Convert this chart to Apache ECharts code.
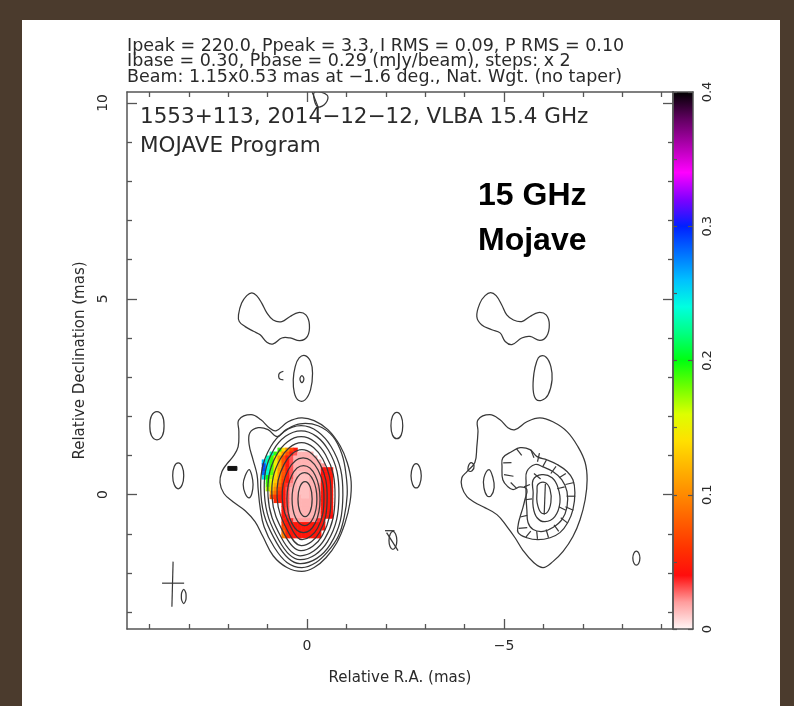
<!DOCTYPE html>
<html><head><meta charset="utf-8">
<script src="https://cdn.jsdelivr.net/npm/echarts@6/dist/echarts.min.js"></script>
<style>
html,body{margin:0;padding:0;width:794px;height:706px;overflow:hidden;background:#4b3b2d;}
#paper{position:absolute;left:22px;top:20px;width:758px;height:686px;background:#fff;}
#chart{position:absolute;left:0;top:0;width:794px;height:706px;}
</style></head><body>
<div id="paper"></div><div id="chart"></div>
<script>
// ---------- axis ticks (mas) ----------
const xMajorTicks = [0, -5];
const xMinorTicks = [-9, -8, -7, -6, -4, -3, -2, -1, 1, 2, 3, 4];
const yMajorTicks = [0, 5, 10];
const yMinorTicks = [-3, -2, -1, 1, 2, 3, 4, 6, 7, 8, 9];
const cbMajorTicks = [0, 0.1, 0.2, 0.3, 0.4];
const cbMinorTicks = [0.05, 0.15, 0.25, 0.35];
const X_MIN = -9.29, X_MAX = 4.57, Y_MIN = -3.43, Y_MAX = 10.28;
const CB_MIN = 0, CB_MAX = 0.4;

// ---------- Stokes I contours, left panel [RA, Dec] ----------
const coreL1 = [[1.73,1.91],[1.42,2.04],[1.17,1.91],[0.96,1.71],[0.79,1.63],[0.48,1.86],[0.15,1.96],[-0.18,1.89],[-0.53,1.66],[-0.84,1.25],[-1.02,0.82],[-1.12,0.33],[-1.09,-0.20],[-0.96,-0.74],[-0.76,-1.22],[-0.48,-1.61],[-0.18,-1.86],[0.13,-1.96],[0.51,-1.86],[0.86,-1.56],[1.12,-1.07],[1.32,-0.69],[1.57,-0.41],[1.88,-0.18],[2.11,0.03],[2.21,0.31],[2.16,0.59],[2.03,0.79],[1.88,0.97],[1.75,1.22],[1.73,1.61]];
const coreL2 = [[1.45,1.58],[1.24,1.71],[0.99,1.66],[0.76,1.48],[0.53,1.66],[0.18,1.81],[-0.28,1.76],[-0.66,1.48],[-0.89,1.02],[-0.99,0.51],[-1.02,0],[-0.94,-0.59],[-0.79,-1.07],[-0.53,-1.45],[-0.23,-1.73],[0.13,-1.86],[0.51,-1.73],[0.84,-1.33],[1.09,-0.82],[1.19,-0.33],[1.24,0.13],[1.27,0.51],[1.37,0.89],[1.47,1.28]];
const coreL3 = [[0.15,1.76],[-0.61,1.23],[-0.91,0],[-0.59,-1.27],[0.18,-1.76],[0.77,-1.23],[1.17,0],[0.92,1.23]];
const coreL4 = [[0.15,1.63],[-0.54,1.14],[-0.81,-0.01],[-0.52,-1.20],[0.18,-1.66],[0.71,-1.17],[1.08,-0.01],[0.85,1.14]];
const coreL5 = [[0.15,1.48],[-0.47,1.02],[-0.71,-0.04],[-0.45,-1.13],[0.18,-1.56],[0.65,-1.10],[0.99,-0.04],[0.77,1.02]];
const coreL6 = [[0.14,1.33],[-0.40,0.91],[-0.61,-0.05],[-0.39,-1.04],[0.16,-1.43],[0.57,-1.02],[0.89,-0.05],[0.68,0.91]];
const coreL7 = [[0.13,1.15],[-0.33,0.78],[-0.51,-0.08],[-0.32,-0.96],[0.15,-1.30],[0.49,-0.93],[0.76,-0.08],[0.58,0.78]];
const coreL8 = [[0.10,0.94],[-0.28,0.63],[-0.43,-0.10],[-0.27,-0.85],[0.13,-1.15],[0.41,-0.83],[0.63,-0.10],[0.48,0.63]];
const coreL9 = [[0.09,0.74],[-0.21,0.49],[-0.33,-0.11],[-0.21,-0.72],[0.09,-0.97],[0.39,-0.72],[0.51,-0.11],[0.39,0.49]];
const coreL10 = [[0.06,0.56],[-0.16,0.36],[-0.25,-0.11],[-0.16,-0.59],[0.06,-0.79],[0.29,-0.59],[0.38,-0.11],[0.29,0.36]];
const coreL11 = [[0.05,0.33],[-0.08,0.20],[-0.13,-0.11],[-0.08,-0.43],[0.05,-0.56],[0.18,-0.43],[0.23,-0.11],[0.18,0.20]];
const lobeOval = [[1.47,0.64],[1.40,0.48],[1.37,0.26],[1.40,0.03],[1.47,-0.08],[1.57,0.03],[1.62,0.26],[1.57,0.48]];
const lobeDash = [[1.78,0.72],[1.78,0.62],[2.01,0.62],[2.01,0.72]];
const blobL = [[1.74,4.59],[1.66,4.89],[1.53,5.08],[1.40,5.15],[1.28,5.08],[1.15,4.89],[1.02,4.64],[0.86,4.46],[0.64,4.42],[0.43,4.55],[0.22,4.65],[0.03,4.59],[-0.06,4.34],[-0.01,4.04],[0.18,3.93],[0.43,4.00],[0.64,4.00],[0.86,3.85],[1.02,3.89],[1.19,4.08],[1.36,4.17],[1.57,4.29],[1.72,4.42]];
const ovalL = [[0.05,3.55],[-0.09,3.40],[-0.14,3.10],[-0.09,2.68],[0.05,2.42],[0.22,2.41],[0.32,2.59],[0.35,2.93],[0.30,3.27],[0.20,3.49]];
const dotL = [[0.13,3.04],[0.08,2.95],[0.13,2.86],[0.18,2.95]];
const edgeOvalA = [[3.81,2.12],[3.67,2.01],[3.63,1.76],[3.67,1.51],[3.81,1.40],[3.95,1.51],[3.99,1.76],[3.95,2.01]];
const edgeOvalB = [[3.27,0.81],[3.17,0.72],[3.13,0.48],[3.17,0.25],[3.27,0.15],[3.37,0.25],[3.41,0.48],[3.37,0.72]];
const topLoop = [[-0.20,10.28],[-0.51,10.20],[-0.48,10.00],[-0.28,9.90],[-0.18,10.10]];
const oslashL = [[-2.18,-0.94],[-2.25,-1.01],[-2.28,-1.17],[-2.25,-1.33],[-2.18,-1.40],[-2.11,-1.33],[-2.08,-1.17],[-2.11,-1.01]];
const beamEllipse = [[3.13,-2.42],[3.08,-2.50],[3.07,-2.60],[3.08,-2.70],[3.13,-2.78],[3.18,-2.70],[3.19,-2.60],[3.18,-2.50]];
// open curves
const cShapeL = [[0.60,3.15],[0.70,3.10],[0.72,3.02],[0.69,2.95],[0.60,2.93]];
const topTail = [[-0.13,10.28],[-0.28,9.90]];
const oslashBar = [[-1.98,-0.92],[-2.22,-0.92]];
const oslashSlash = [[-2.02,-0.97],[-2.31,-1.43]];

// ---------- Stokes I contours, right panel ----------
const outerR = [[-4.34,1.91],[-4.64,2.04],[-4.90,1.91],[-5.10,1.71],[-5.28,1.66],[-5.58,1.86],[-5.91,1.96],[-6.24,1.86],[-6.60,1.61],[-6.88,1.22],[-7.06,0.82],[-7.11,0.38],[-7.06,-0.13],[-6.93,-0.64],[-6.75,-1.07],[-6.50,-1.45],[-6.24,-1.71],[-5.99,-1.86],[-5.74,-1.72],[-5.48,-1.42],[-5.28,-1.10],[-5.08,-0.82],[-4.82,-0.51],[-4.47,-0.31],[-4.26,-0.20],[-4.06,-0.05],[-3.93,0.20],[-3.93,0.43],[-4.06,0.59],[-4.26,0.82],[-4.31,1.22],[-4.34,1.61]];
const loopR = [[-4.09,0.71],[-4.16,0.82],[-4.24,0.74],[-4.19,0.61],[-4.10,0.61]];
const lobeOvalR = [[-4.62,0.64],[-4.72,0.43],[-4.75,0.18],[-4.67,-0.03],[-4.57,-0.03],[-4.49,0.18],[-4.49,0.43]];
const blobR = [[-4.31,4.55],[-4.39,4.89],[-4.52,5.08],[-4.66,5.16],[-4.80,5.08],[-4.94,4.85],[-5.07,4.59],[-5.24,4.46],[-5.45,4.42],[-5.66,4.55],[-5.87,4.65],[-6.07,4.59],[-6.15,4.34],[-6.08,4.04],[-5.91,3.94],[-5.66,4.04],[-5.45,4.00],[-5.20,3.83],[-5.03,3.91],[-4.90,4.13],[-4.69,4.21],[-4.43,4.34]];
const ovalR = [[-5.91,3.53],[-6.07,3.51],[-6.19,3.27],[-6.22,2.93],[-6.12,2.55],[-5.96,2.41],[-5.81,2.44],[-5.74,2.68],[-5.76,3.10],[-5.83,3.40]];
const edgeOvalRA = [[-2.28,2.10],[-2.39,2.00],[-2.43,1.76],[-2.39,1.52],[-2.28,1.43],[-2.17,1.52],[-2.13,1.76],[-2.17,2.00]];
const edgeOvalRB = [[-2.77,0.79],[-2.86,0.70],[-2.90,0.48],[-2.86,0.26],[-2.77,0.17],[-2.68,0.26],[-2.64,0.48],[-2.68,0.70]];
const oslashR = [[-8.36,-1.44],[-8.42,-1.49],[-8.45,-1.62],[-8.42,-1.75],[-8.36,-1.80],[-8.30,-1.75],[-8.27,-1.62],[-8.30,-1.49]];

// ---------- polarized intensity contours, right panel ----------
const polC1 = [[-4.95,0.71],[-4.97,0.94],[-5.20,1.10],[-5.41,1.20],[-5.66,1.15],[-5.84,0.97],[-6.09,0.89],[-6.35,0.77],[-6.60,0.59],[-6.75,0.38],[-6.80,0.05],[-6.75,-0.38],[-6.62,-0.71],[-6.42,-0.97],[-6.17,-1.10],[-5.86,-1.15],[-5.58,-1.10],[-5.36,-0.97],[-5.36,-0.77],[-5.41,-0.56],[-5.48,-0.33],[-5.53,-0.13],[-5.58,0.13],[-5.41,0.20],[-5.23,0.13],[-5.10,0.20],[-4.97,0.38]];
const polC2 = [[-5.58,0.59],[-5.79,0.77],[-5.99,0.71],[-6.24,0.59],[-6.47,0.38],[-6.60,0.08],[-6.60,-0.31],[-6.47,-0.64],[-6.24,-0.84],[-5.99,-0.94],[-5.74,-0.89],[-5.61,-0.71],[-5.58,-0.38],[-5.56,-0.05],[-5.56,0.31]];
const polC3 = [[-5.74,0.38],[-5.96,0.51],[-6.22,0.43],[-6.37,0.18],[-6.42,-0.20],[-6.29,-0.56],[-6.04,-0.69],[-5.84,-0.59],[-5.74,-0.31],[-5.74,0.05]];
const polC4 = [[-5.86,0.26],[-6.04,0.31],[-6.17,0.13],[-6.19,-0.20],[-6.09,-0.46],[-5.94,-0.46],[-5.84,-0.20],[-5.84,0.08]];

// ---------- EVPA ticks [RA1, Dec1, RA2, Dec2] ----------
const evpaTicks = [
  [-5.32,1.17,-5.45,1.00],[-5.68,1.15,-5.76,0.94],[-4.98,0.81,-5.19,0.82],[-5.00,0.51,-5.24,0.47],
  [-5.17,0.31,-5.32,0.16],[-5.90,1.06,-5.85,0.84],[-6.08,0.89,-5.98,0.71],[-6.32,0.72,-6.19,0.54],
  [-6.57,0.54,-6.40,0.43],[-6.78,0.31,-6.56,0.26],[-6.81,-0.04,-6.59,-0.04],[-6.76,-0.40,-6.56,-0.31],
  [-6.61,-0.72,-6.44,-0.59],[-6.39,-0.94,-6.27,-0.77],[-6.13,-1.10,-6.07,-0.89],[-5.85,-1.13,-5.83,-0.93],
  [-5.56,-1.08,-5.68,-0.93],[-5.37,-0.86,-5.59,-0.84],[-5.41,-0.57,-5.59,-0.53],[-6.05,0.28,-6.02,-0.51],
  [-5.76,0.54,-5.93,0.40],[-6.35,0.15,-6.54,0.20],[-6.39,-0.31,-6.57,-0.40],[-5.54,-0.13,-5.71,-0.11],
  [-5.51,0.20,-5.66,0.26]
];
const beamCross = [[3.40,-1.71,3.43,-2.86],[3.68,-2.26,3.12,-2.26]];

// ---------- fractional polarization (left panel) ----------
const _ = null;
const polRA = [1.10,1.00,0.90,0.80,0.70,0.60,0.50,0.40,0.30,0.20,0.10,0.00,-0.10,-0.20,-0.30,-0.40,-0.50,-0.60];
const polDec = [1.15,1.05,0.95,0.85,0.75,0.65,0.55,0.45,0.35,0.25,0.15,0.05,-0.05,-0.15,-0.25,-0.35,-0.45,-0.55,-0.65,-0.75,-0.85,-0.95,-1.05];
const polFrac = [
 [_,_,_,_,0.19,0.14,0.10,0.07,0.045,_,_,_,_,_,_,_,_,_],
 [_,_,0.235,0.19,0.14,0.105,0.075,0.045,0.03,0.015,0.015,0.015,0.015,_,_,_,_,_],
 [_,0.235,0.19,0.14,0.105,0.075,0.045,0.03,0.015,0.015,0.015,0.015,0.015,0.015,_,_,_,_],
 [0.26,0.23,0.19,0.15,0.11,0.075,0.045,0.03,0.015,0.015,0.015,0.015,0.015,0.015,0.015,_,_,_],
 [0.29,0.24,0.19,0.145,0.11,0.075,0.045,0.03,0.015,0.015,0.015,0.015,0.015,0.015,0.015,0.02,_,_],
 [0.29,0.235,0.185,0.14,0.105,0.075,0.045,0.03,0.015,0.015,0.015,0.015,0.015,0.015,0.015,0.04,0.045,0.045],
 [0.28,0.235,0.185,0.14,0.105,0.075,0.045,0.03,0.015,0.012,0.012,0.015,0.015,0.015,0.015,0.04,0.045,0.045],
 [0.25,0.20,0.17,0.135,0.10,0.07,0.045,0.03,0.015,0.012,0.012,0.012,0.015,0.015,0.015,0.045,0.045,0.045],
 [_,0.19,0.16,0.13,0.095,0.065,0.045,0.025,0.015,0.012,0.012,0.012,0.015,0.015,0.015,0.045,0.045,0.045],
 [_,0.185,0.15,0.115,0.085,0.055,0.035,0.02,0.015,0.012,0.012,0.012,0.015,0.015,0.02,0.045,0.045,0.045],
 [_,0.17,0.135,0.10,0.07,0.05,0.03,0.015,0.015,0.012,0.012,0.012,0.015,0.015,0.02,0.045,0.045,0.045],
 [_,_,0.11,0.085,0.06,0.045,0.03,0.015,0.015,0.012,0.012,0.012,0.015,0.015,0.02,0.045,0.045,0.045],
 [_,_,0.075,0.06,0.05,0.045,0.03,0.015,0.015,0.015,0.012,0.012,0.015,0.015,0.02,0.045,0.045,0.045],
 [_,_,_,0.055,0.05,0.045,0.03,0.015,0.015,0.015,0.015,0.015,0.015,0.015,0.02,0.045,0.045,0.045],
 [_,_,_,_,_,0.045,0.03,0.015,0.015,0.015,0.015,0.015,0.015,0.015,0.02,0.045,0.045,0.045],
 [_,_,_,_,_,0.045,0.03,0.015,0.015,0.015,0.015,0.015,0.015,0.015,0.02,0.045,0.045,0.045],
 [_,_,_,_,_,0.045,0.03,0.015,0.015,0.015,0.015,0.015,0.015,0.015,0.02,0.045,0.045,0.045],
 [_,_,_,_,_,0.045,0.035,0.015,0.015,0.015,0.015,0.015,0.015,0.015,0.02,0.045,0.045,0.04],
 [_,_,_,_,_,0.05,0.045,0.035,0.02,0.02,0.02,0.02,0.02,0.02,0.035,0.045,_,_],
 [_,_,_,_,_,0.06,0.045,0.045,0.045,0.045,0.045,0.045,0.045,0.045,0.045,0.045,_,_],
 [_,_,_,_,_,0.07,0.045,0.045,0.045,0.045,0.045,0.045,0.045,0.045,0.045,0.045,_,_],
 [_,_,_,_,_,0.085,0.05,0.045,0.045,0.045,0.045,0.045,0.045,0.045,0.045,_,_,_],
 [_,_,_,_,_,0.095,0.055,0.045,0.045,0.045,0.045,0.045,0.045,0.045,0.045,_,_,_]
];
const POL_CELL = 0.1;
const cbColors = ['#fff5f5','#ff9d9d','#ff0d0d','#ff3300','#ff5e00','#ff8a00','#ffb400','#ffe000','#ddff00','#70ff00','#00ff10','#00ff80','#00ffe0','#00c0ff','#0070ff','#0020ff','#8000ff','#ff00ff','#b000b0','#600060','#000000'];

// ---------- build ----------
const iClosed = [coreL1,coreL2,coreL3,coreL4,coreL5,coreL6,coreL7,coreL8,coreL9,coreL10,coreL11,lobeOval,blobL,ovalL,dotL,edgeOvalA,edgeOvalB,topLoop,oslashL,beamEllipse,
                 outerR,loopR,lobeOvalR,blobR,ovalR,edgeOvalRA,edgeOvalRB,oslashR];
const iOpen = [cShapeL, topTail, oslashBar, oslashSlash];
const filled = [lobeDash];
const pClosed = [polC1, polC2, polC3, polC4];
const segments = evpaTicks.concat(beamCross);

const polCells = [];
polFrac.forEach((row, i) => row.forEach((v, j) => { if (v !== null) polCells.push([polRA[j], polDec[i], v]); }));

const FONT = 'DejaVu Sans';
const TXT = '#2a2a2a';
const AX = '#555';
const LINE = '#383838';
const fmtMas = v => (v < 0 ? '\u2212' + Math.abs(v) : String(v));

function mkX(pos, ticks, len, showLine, showLabel, extra) {
  return Object.assign({
    type: 'value', gridIndex: 0, position: pos, min: X_MIN, max: X_MAX, inverse: true,
    axisLine: { show: showLine, onZero: false, lineStyle: { color: AX, width: 1.5 } },
    axisTick: { show: true, inside: true, length: len, customValues: ticks, lineStyle: { color: AX, width: 1.3 } },
    axisLabel: { show: showLabel, customValues: ticks, formatter: fmtMas, color: TXT, fontFamily: FONT, fontSize: 14, margin: 10 },
    splitLine: { show: false }, z: 5
  }, extra || {});
}
function mkY(pos, ticks, len, showLine, showLabel, extra) {
  return Object.assign({
    type: 'value', gridIndex: 0, position: pos, min: Y_MIN, max: Y_MAX,
    axisLine: { show: showLine, onZero: false, lineStyle: { color: AX, width: 1.5 } },
    axisTick: { show: true, inside: true, length: len, customValues: ticks, lineStyle: { color: AX, width: 1.3 } },
    axisLabel: { show: showLabel, customValues: ticks, formatter: fmtMas, rotate: 90, color: TXT, fontFamily: FONT, fontSize: 14, margin: 17 },
    splitLine: { show: false }, z: 5
  }, extra || {});
}

const closedSeries = (list, smooth, style) => ({
  type: 'custom', xAxisIndex: 0, yAxisIndex: 0, clip: true, silent: true, z: 3,
  data: list.map((c, i) => [c[0][0], c[0][1], i]), encode: { x: 0, y: 1 },
  renderItem: (params, api) => ({
    type: 'polygon',
    shape: { points: list[params.dataIndex].map(p => api.coord(p)), smooth: smooth },
    style: Object.assign({}, style)
  })
});
const openSeries = (list, style) => ({
  type: 'custom', xAxisIndex: 0, yAxisIndex: 0, clip: true, silent: true, z: 3,
  data: list.map((c, i) => [c[0][0], c[0][1], i]), encode: { x: 0, y: 1 },
  renderItem: (params, api) => ({
    type: 'polyline',
    shape: { points: list[params.dataIndex].map(p => api.coord(p)), smooth: 0.3 },
    style: Object.assign({}, style)
  })
});
const cbAxisLine = { show: true, onZero: false, lineStyle: { color: AX, width: 1.5 } };

const chart = echarts.init(document.getElementById('chart'), null, { renderer: 'canvas' });
chart.setOption({
  animation: false,
  backgroundColor: 'transparent',
  grid: [
    { left: 127, top: 92, width: 546, height: 537 },
    { left: 673, top: 92, width: 20, height: 537 }
  ],
  visualMap: { show: false, type: 'continuous', min: CB_MIN, max: CB_MAX, dimension: 2, seriesIndex: 0, inRange: { color: cbColors } },
  xAxis: [
    mkX('bottom', xMajorTicks, 10, true, true, { name: 'Relative R.A. (mas)', nameLocation: 'middle', nameGap: 42, nameTextStyle: { color: TXT, fontFamily: FONT, fontSize: 15 } }),
    mkX('bottom', xMinorTicks, 5, false, false),
    mkX('top', xMajorTicks, 10, true, false),
    mkX('top', xMinorTicks, 5, false, false),
    { type: 'value', gridIndex: 1, position: 'bottom', min: 0, max: 1, axisLine: cbAxisLine, axisTick: { show: false }, axisLabel: { show: false }, splitLine: { show: false }, z: 10 },
    { type: 'value', gridIndex: 1, position: 'top', min: 0, max: 1, axisLine: cbAxisLine, axisTick: { show: false }, axisLabel: { show: false }, splitLine: { show: false }, z: 10 }
  ],
  yAxis: [
    mkY('left', yMajorTicks, 10, true, true, { name: 'Relative Declination (mas)', nameLocation: 'middle', nameGap: 37, nameRotate: 90, nameTextStyle: { color: TXT, fontFamily: FONT, fontSize: 15 } }),
    mkY('left', yMinorTicks, 5, false, false),
    mkY('right', yMajorTicks, 10, true, false),
    mkY('right', yMinorTicks, 5, false, false),
    { type: 'value', gridIndex: 1, position: 'right', min: CB_MIN, max: CB_MAX,
      axisLine: cbAxisLine,
      axisTick: { show: true, inside: true, length: 5, customValues: cbMajorTicks, lineStyle: { color: AX, width: 1.2 } },
      axisLabel: { show: true, customValues: cbMajorTicks, rotate: 90, margin: 8, color: TXT, fontFamily: FONT, fontSize: 13, formatter: v => (v === 0 ? '0' : v.toFixed(1)) },
      splitLine: { show: false }, z: 10 },
    { type: 'value', gridIndex: 1, position: 'left', min: CB_MIN, max: CB_MAX,
      axisLine: cbAxisLine,
      axisTick: { show: true, inside: true, length: 4, customValues: cbMinorTicks.concat(cbMajorTicks), lineStyle: { color: AX, width: 1.2 } },
      axisLabel: { show: false }, splitLine: { show: false }, z: 10 }
  ],
  series: [
    { type: 'custom', xAxisIndex: 0, yAxisIndex: 0, clip: true, silent: true, z: 1,
      data: polCells, encode: { x: 0, y: 1 },
      renderItem: (params, api) => {
        const ra = api.value(0), dec = api.value(1);
        const p1 = api.coord([ra + POL_CELL / 2, dec + POL_CELL / 2]);
        const p2 = api.coord([ra - POL_CELL / 2, dec - POL_CELL / 2]);
        return { type: 'rect', shape: { x: p1[0], y: p1[1], width: p2[0] - p1[0] + 0.6, height: p2[1] - p1[1] + 0.6 }, style: { fill: api.visual('color') } };
      } },
    closedSeries(iClosed, 0.4, { fill: 'none', stroke: LINE, lineWidth: 1.25 }),
    openSeries(iOpen, { fill: 'none', stroke: LINE, lineWidth: 1.25 }),
    closedSeries(filled, 0, { fill: '#111', stroke: '#111', lineWidth: 1 }),
    closedSeries(pClosed, 0.4, { fill: 'none', stroke: LINE, lineWidth: 1.25 }),
    { type: 'custom', xAxisIndex: 0, yAxisIndex: 0, clip: true, silent: true, z: 4,
      data: segments, encode: { x: [0, 2], y: [1, 3] },
      renderItem: (params, api) => {
        const a = api.coord([api.value(0), api.value(1)]);
        const b = api.coord([api.value(2), api.value(3)]);
        return { type: 'line', shape: { x1: a[0], y1: a[1], x2: b[0], y2: b[1] }, style: { stroke: LINE, lineWidth: 1.2 } };
      } },
    { type: 'custom', xAxisIndex: 4, yAxisIndex: 4, clip: false, silent: true, z: 2,
      data: [[0, CB_MAX, 1, CB_MIN]], encode: { x: [0, 2], y: [1, 3] },
      renderItem: (params, api) => {
        const a = api.coord([api.value(0), api.value(1)]);
        const b = api.coord([api.value(2), api.value(3)]);
        const stops = cbColors.map((c, i) => ({ offset: i / (cbColors.length - 1), color: c }));
        return { type: 'rect', shape: { x: a[0], y: a[1], width: b[0] - a[0], height: b[1] - a[1] },
                 style: { fill: new echarts.graphic.LinearGradient(0, 1, 0, 0, stops) } };
      } }
  ],
  graphic: [
    { type: 'text', x: 127, y: 46, style: { text: 'Ipeak = 220.0, Ppeak = 3.3, I RMS = 0.09, P RMS = 0.10', fontFamily: FONT, fontSize: 17.5, fill: TXT, verticalAlign: 'middle', textVerticalAlign: 'middle' } },
    { type: 'text', x: 127, y: 61.5, style: { text: 'Ibase = 0.30, Pbase = 0.29 (mJy/beam), steps: x 2', fontFamily: FONT, fontSize: 17.5, fill: TXT, verticalAlign: 'middle', textVerticalAlign: 'middle' } },
    { type: 'text', x: 127, y: 77, style: { text: 'Beam: 1.15x0.53 mas at \u22121.6 deg., Nat. Wgt. (no taper)', fontFamily: FONT, fontSize: 17.5, fill: TXT, verticalAlign: 'middle', textVerticalAlign: 'middle' } },
    { type: 'text', x: 140, y: 117, z: 10, style: { text: '1553+113, 2014\u221212\u221212, VLBA 15.4 GHz', fontFamily: FONT, fontSize: 21.5, fill: TXT, verticalAlign: 'middle', textVerticalAlign: 'middle' } },
    { type: 'text', x: 140, y: 146, z: 10, style: { text: 'MOJAVE Program', fontFamily: FONT, fontSize: 21.5, fill: TXT, verticalAlign: 'middle', textVerticalAlign: 'middle' } },
    { type: 'text', x: 478, y: 196, z: 10, style: { text: '15 GHz', fontFamily: 'Liberation Sans', fontWeight: 'bold', fontSize: 32, fill: '#000', verticalAlign: 'middle', textVerticalAlign: 'middle' } },
    { type: 'text', x: 478, y: 241, z: 10, style: { text: 'Mojave', fontFamily: 'Liberation Sans', fontWeight: 'bold', fontSize: 32, fill: '#000', verticalAlign: 'middle', textVerticalAlign: 'middle' } }
  ]
});
</script></body></html>
